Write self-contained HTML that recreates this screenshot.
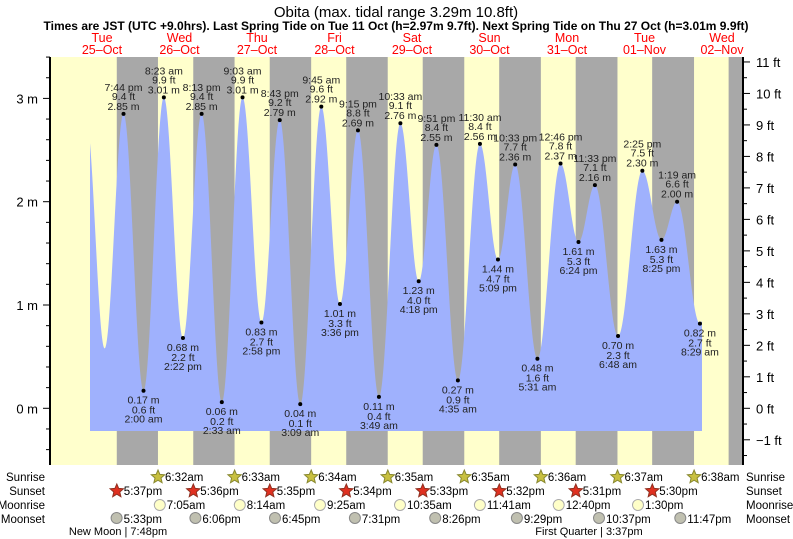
<!DOCTYPE html>
<html><head><meta charset="utf-8"><style>
html,body{margin:0;padding:0;background:#fff;}
svg{display:block;font-family:"Liberation Sans",sans-serif;}
</style></head><body>
<svg id="s" width="793" height="539" xmlns="http://www.w3.org/2000/svg">
<text x="396" y="17" text-anchor="middle" font-size="15" fill="#000">Obita (max. tidal range 3.29m 10.8ft)</text>
<text x="396" y="30" text-anchor="middle" font-size="12" font-weight="bold" fill="#000">Times are JST (UTC +9.0hrs). Last Spring Tide on Tue 11 Oct (h=2.97m 9.7ft). Next Spring Tide on Thu 27 Oct (h=3.01m 9.9ft)</text>
<g id="g"></g>
</svg>
<script>
var NS="http://www.w3.org/2000/svg",g=document.getElementById('g');
function el(n,a,t){var e=document.createElementNS(NS,n);for(var k in a)e.setAttribute(k,a[k]);if(t!==undefined)e.textContent=t;g.appendChild(e);return e;}
var X0=60.6,PH=3.189,Y0=408.3,PM=103.3;
function X(t){return X0+t*PH;}function Y(h){return Y0-h*PM;}
var L=50,R=743,T=57,B=465;
el('rect',{x:L,y:T,width:R-L,height:B-T,fill:'#ffffcc'});
var ss=[17.62,41.6,65.58,89.57,113.55,137.53,161.52,185.5,209.48];
var sr=[30.53,54.55,78.57,102.58,126.58,150.6,174.62,198.63,222.65];
for(var i=0;i<ss.length;i++){var a=X(ss[i]),b=Math.min(X(sr[i]),R);if(a<R)el('rect',{x:a,y:T,width:b-a,height:B-T,fill:'#a8a8a8'});}
var E=[[8.0,2.8],[13.8,0.58],[19.73,2.85],[26.0,0.17],[32.38,3.01],[38.37,0.68],[44.22,2.85],[50.55,0.06],[57.05,3.01],[62.97,0.83],[68.72,2.79],[75.15,0.04],[81.75,2.92],[87.6,1.01],[93.25,2.69],[99.82,0.11],[106.55,2.76],[112.3,1.23],[117.85,2.55],[124.58,0.27],[131.5,2.56],[137.15,1.44],[142.55,2.36],[149.52,0.48],[156.77,2.37],[162.4,1.61],[167.55,2.16],[174.8,0.70],[182.42,2.30],[188.42,1.63],[193.32,2.00],[200.48,0.82],[207,2.0]];
function H(t){for(var i=0;i<E.length-1;i++){if(t>=E[i][0]&&t<=E[i+1][0]){var f=(t-E[i][0])/(E[i+1][0]-E[i][0]);return E[i][1]+(E[i+1][1]-E[i][1])*(1-Math.cos(Math.PI*f))/2;}}return E[0][1];}
var t0=(90-X0)/PH,t1=(702-X0)/PH,yb=431,d='M'+X(t0)+','+yb;
for(var t=t0;t<=t1;t+=0.1)d+=' L'+X(t).toFixed(2)+','+Y(H(t)).toFixed(2);
d+=' L'+X(t1)+','+Y(H(t1))+' L'+X(t1)+','+yb+'Z';
el('path',{d:d,fill:'#9fb1fd'});
el('line',{x1:L,y1:T,x2:L,y2:B,stroke:'#000','stroke-width':2});
el('line',{x1:R,y1:T,x2:R,y2:B,stroke:'#000','stroke-width':2});
for(var m=-0.6;m<=3.61;m+=0.2){var y=Y(m);if(y<T||y>B)continue;var maj=Math.abs(m-Math.round(m))<0.01;el('line',{x1:maj?43:46,y1:y,x2:L,y2:y,stroke:'#000'});if(maj)el('text',{x:38,y:y+5,'text-anchor':'end','font-size':13},Math.round(m)+' m');}
for(var f=-2;f<=12;f+=0.5){var y=Y0-f*0.3048*PM;if(y<T||y>B)continue;var maj=f%1==0;el('line',{x1:R,y1:y,x2:maj?750:747,y2:y,stroke:'#000'});if(maj)el('text',{x:756,y:y+5,'font-size':13},(f<0?'\u22121':f)+' ft');}
var D=[['Tue','25-Oct'],['Wed','26-Oct'],['Thu','27-Oct'],['Fri','28-Oct'],['Sat','29-Oct'],['Sun','30-Oct'],['Mon','31-Oct'],['Tue','01-Nov'],['Wed','02-Nov']];
for(var i=0;i<D.length;i++){var x=102+i*77.5;el('text',{x:x,y:42,'text-anchor':'middle','font-size':12.5,fill:'#ff0000'},D[i][0]);el('text',{x:x,y:54,'text-anchor':'middle','font-size':12.5,fill:'#ff0000'},D[i][1].replace('-','\u2013'));}
var LB=[[19.73,2.85,'7:44 pm','9.4 ft',1],[26.0,0.17,'2:00 am','0.6 ft',0],[32.38,3.01,'8:23 am','9.9 ft',1],[38.37,0.68,'2:22 pm','2.2 ft',0],[44.22,2.85,'8:13 pm','9.4 ft',1],[50.55,0.06,'2:33 am','0.2 ft',0],[57.05,3.01,'9:03 am','9.9 ft',1],[62.97,0.83,'2:58 pm','2.7 ft',0],[68.72,2.79,'8:43 pm','9.2 ft',1],[75.15,0.04,'3:09 am','0.1 ft',0],[81.75,2.92,'9:45 am','9.6 ft',1],[87.6,1.01,'3:36 pm','3.3 ft',0],[93.25,2.69,'9:15 pm','8.8 ft',1],[99.82,0.11,'3:49 am','0.4 ft',0],[106.55,2.76,'10:33 am','9.1 ft',1],[112.3,1.23,'4:18 pm','4.0 ft',0],[117.85,2.55,'9:51 pm','8.4 ft',1],[124.58,0.27,'4:35 am','0.9 ft',0],[131.5,2.56,'11:30 am','8.4 ft',1],[137.15,1.44,'5:09 pm','4.7 ft',0],[142.55,2.36,'10:33 pm','7.7 ft',1],[149.52,0.48,'5:31 am','1.6 ft',0],[156.77,2.37,'12:46 pm','7.8 ft',1],[162.4,1.61,'6:24 pm','5.3 ft',0],[167.55,2.16,'11:33 pm','7.1 ft',1],[174.8,0.70,'6:48 am','2.3 ft',0],[182.42,2.30,'2:25 pm','7.5 ft',1],[188.42,1.63,'8:25 pm','5.3 ft',0],[193.32,2.00,'1:19 am','6.6 ft',1],[200.48,0.82,'8:29 am','2.7 ft',0]];
LB.forEach(function(l){var x=X(l[0]),y=Y(l[1]),m=l[1].toFixed(2)+' m';el('circle',{cx:x,cy:y,r:2,fill:'#000'});var a={'text-anchor':'middle','font-size':10.5,fill:'#222'};
function tx(yy,s){var o={};for(var k in a)o[k]=a[k];o.x=x;o.y=yy;el('text',o,s);}
if(l[4]){tx(y-23,l[2]);tx(y-14,l[3]);tx(y-4,m);}else{tx(y+13,m);tx(y+23,l[3]);tx(y+32,l[2]);}});
var FS=11.5;
var rows=[['Sunrise',481],['Sunset',495],['Moonrise',509],['Moonset',523]];
rows.forEach(function(r){el('text',{x:45,y:r[1],'text-anchor':'end','font-size':FS},r[0]);el('text',{x:746,y:r[1],'font-size':FS},r[0]);});
function star(cx,cy,fill,stroke){var p='';for(var i=0;i<10;i++){var a=-Math.PI/2+i*Math.PI/5,rr=i%2?3.2:7;p+=(cx+rr*Math.cos(a)).toFixed(1)+','+(cy+rr*Math.sin(a)).toFixed(1)+' ';}el('polygon',{points:p,fill:fill,stroke:stroke,'stroke-width':1});}
var SR=[[158,'6:32am'],[234.6,'6:33am'],[311.2,'6:34am'],[387.8,'6:35am'],[464.3,'6:35am'],[540.9,'6:36am'],[617.5,'6:37am'],[694.1,'6:38am']];
SR.forEach(function(s){star(s[0],477,'#c8c040','#888830');el('text',{x:s[0]+7,y:481,'font-size':FS},s[1]);});
var SS=[[116.8,'5:37pm'],[193.3,'5:36pm'],[269.8,'5:35pm'],[346.3,'5:34pm'],[422.8,'5:33pm'],[499.3,'5:32pm'],[575.8,'5:31pm'],[652.3,'5:30pm']];
SS.forEach(function(s){star(s[0],491,'#e03020','#903020');el('text',{x:s[0]+7,y:495,'font-size':FS},s[1]);});
var MR=[[159.8,'7:05am'],[239.8,'8:14am'],[320,'9:25am'],[400,'10:35am'],[479.9,'11:41am'],[558.7,'12:40pm'],[638,'1:30pm']];
MR.forEach(function(s){el('circle',{cx:s[0],cy:505,r:5.5,fill:'#ffffc8',stroke:'#aaa'});el('text',{x:s[0]+7,y:509,'font-size':FS},s[1]);});
var MS=[[116.6,'5:33pm'],[195.4,'6:06pm'],[275,'6:45pm'],[354.9,'7:31pm'],[435.2,'8:26pm'],[516.9,'9:29pm'],[599,'10:37pm'],[680.3,'11:47pm']];
MS.forEach(function(s){el('circle',{cx:s[0],cy:518,r:5.5,fill:'#c0c0b0',stroke:'#888'});el('text',{x:s[0]+7,y:523,'font-size':FS},s[1]);});
el('text',{x:118,y:535,'text-anchor':'middle','font-size':11},'New Moon | 7:48pm');
el('text',{x:589,y:535,'text-anchor':'middle','font-size':11},'First Quarter | 3:37pm');
</script>
</body></html>
